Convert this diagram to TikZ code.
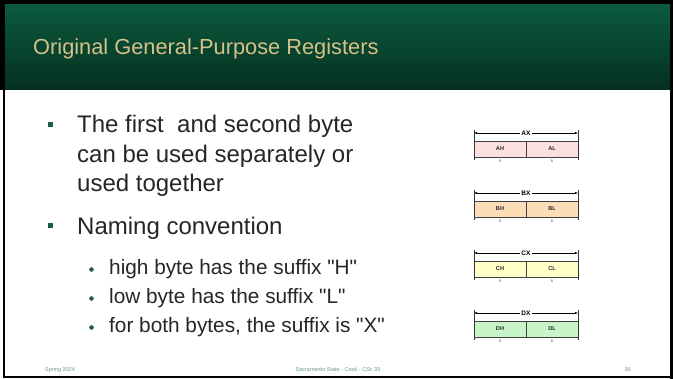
\documentclass[tikz,border=0pt]{standalone}
\usepackage{fontspec}
\setmainfont{Liberation Sans}
\usetikzlibrary{arrows.meta}
\definecolor{hdrtop}{HTML}{0B5A3E}
\definecolor{hdrbot}{HTML}{04301F}
\definecolor{titletan}{HTML}{D6C08A}
\definecolor{bodytext}{HTML}{262626}
\definecolor{bulletgreen}{HTML}{1E5E42}
\definecolor{footgreen}{HTML}{6A9A80}
\definecolor{regA}{HTML}{FCE0E0}
\definecolor{regB}{HTML}{FCDDB8}
\definecolor{regC}{HTML}{FFFFC6}
\definecolor{regD}{HTML}{C8F5C8}
\newcommand{\dq}{\textquotedbl}
\tikzset{
  bodyline/.style={anchor=base west, inner sep=0pt, text=bodytext, font=\fontsize{24}{29}\selectfont},
  subline/.style={anchor=base west, inner sep=0pt, text=bodytext, font=\fontsize{20.8}{25}\selectfont},
  sqbullet/.style={fill=bulletgreen, minimum size=5pt, inner sep=0pt},
  dotbullet/.style={circle, fill=bulletgreen, minimum size=4.6pt, inner sep=0pt},
  footer/.style={inner sep=0pt, text=footgreen, font=\fontsize{5.5}{6}\selectfont},
  bytebox/.style={draw=black!75, line width=0.8pt, minimum width=52pt, minimum height=16pt, inner sep=0pt, font=\bfseries\fontsize{5.6}{6}\selectfont, text=black!85},
  reglabel/.style={fill=white, inner sep=1.2pt, font=\bfseries\fontsize{6.5}{7}\selectfont},
  bitlabel/.style={inner sep=0pt, font=\fontsize{3.8}{4}\selectfont, text=black!70},
  dimline/.style={line width=0.5pt, {Latex[length=3pt,width=2.4pt]}-{Latex[length=3pt,width=2.4pt]}},
  tickline/.style={line width=0.6pt, black!80},
}
\begin{document}
\begin{tikzpicture}[x=1pt, y=-1pt]
\useasboundingbox (0,0) rectangle (673,379);
\fill[white] (0,0) rectangle (673,379);

% header band with black rim and green gradient
\fill[black] (0,0) rectangle (673,90);
\shade[top color=hdrtop, bottom color=hdrbot] (5,5) rectangle (670,90);
\node[anchor=base west, inner sep=0pt, text=titletan, font=\fontsize{21.8}{26}\selectfont] (title) at (33,55) {Original General-Purpose Registers};

% slide frame below the header
\draw[black, line width=2pt] (3.5,90) -- (3.5,377.5) -- (671.5,377.5) -- (671.5,90);
\draw[black, line width=3pt] (671.5,90) -- (671.5,379);

% bullet list
\node[sqbullet] (b1) at (50.5,124.5) {};
\node[bodyline] (t1a) at (77,133) {The first\ \ and second byte};
\node[bodyline] (t1b) at (77,162.5) {can be used separately or};
\node[bodyline] (t1c) at (77,192) {used together};
\node[sqbullet] (b2) at (50.5,226) {};
\node[bodyline] (t2) at (77,235) {Naming convention};
\node[dotbullet] (s1) at (91.5,269.5) {};
\node[subline] (u1) at (109,275) {high byte has the suffix \dq H\dq};
\node[dotbullet] (s2) at (91.5,298.5) {};
\node[subline] (u2) at (109,304) {low byte has the suffix \dq L\dq};
\node[dotbullet] (s3) at (91.5,327.5) {};
\node[subline] (u3) at (109,333) {for both bytes, the suffix is \dq X\dq};

% register diagrams: 16-bit register split into high and low bytes
\foreach \r/\t/\c in {A/141/regA, B/201/regB, C/261/regC, D/321/regD}{
  \node[bytebox, fill=\c] (\r H) at (500,\t+8) {\r H};
  \node[bytebox, fill=\c] (\r L) at (552,\t+8) {\r L};
  \coordinate (\r-top-l) at (474,\t-11);
  \coordinate (\r-bot-l) at (474,\t+19);
  \coordinate (\r-top-r) at (578,\t-11);
  \coordinate (\r-bot-r) at (578,\t+19);
  \draw[tickline] (\r-top-l) -- (\r-bot-l);
  \draw[tickline] (\r-top-r) -- (\r-bot-r);
  \coordinate (\r-arr-l) at (474,\t-8);
  \coordinate (\r-arr-r) at (578,\t-8);
  \draw[dimline] (\r-arr-l) -- (\r-arr-r);
  \node[reglabel] (\r X) at (526,\t-8) {\r X};
  \node[bitlabel] (\r H8) at (500,\t+20.5) {8};
  \node[bitlabel] (\r L8) at (552,\t+20.5) {8};
}

% footer
\node[footer, anchor=base west] (fl) at (45,372) {Spring 2024};
\node[footer, anchor=base] (fc) at (338,372) {Sacramento State - Cook - CSc 35};
\node[footer, anchor=base east] (fr) at (631,372) {36};
\end{tikzpicture}
\end{document}
